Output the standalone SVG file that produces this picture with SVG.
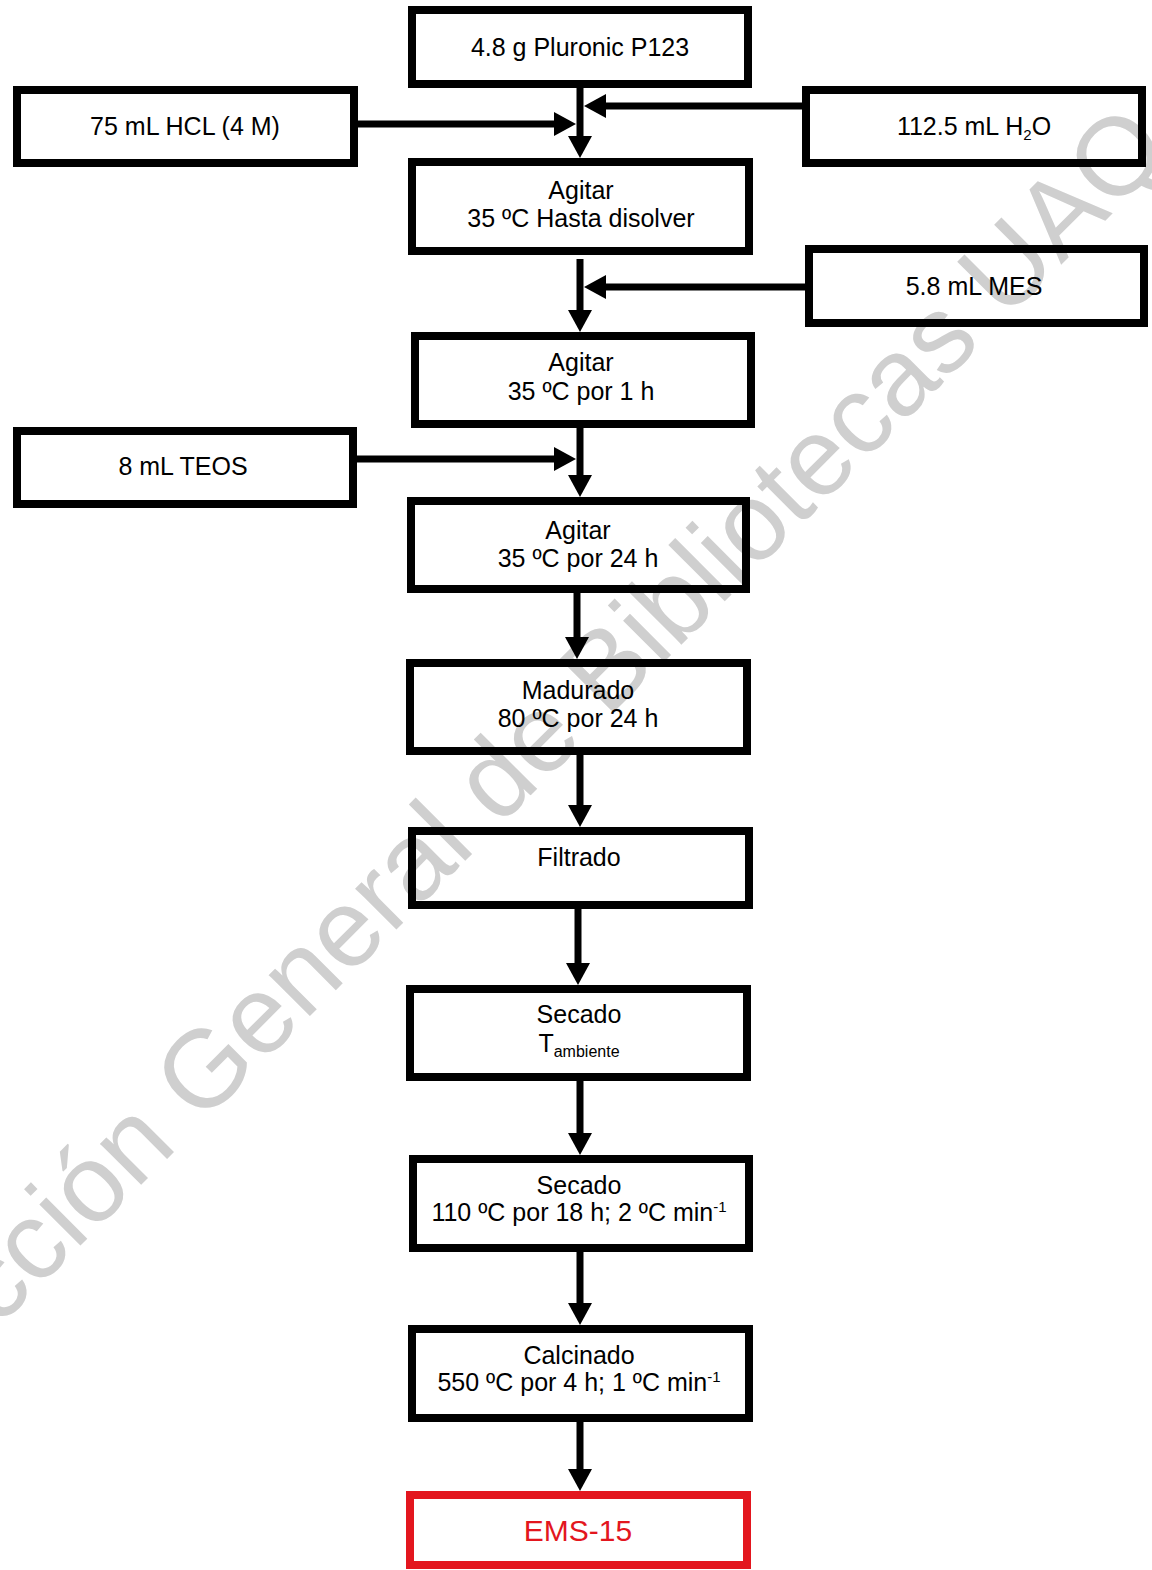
<svg xmlns="http://www.w3.org/2000/svg" width="1152" height="1570" viewBox="0 0 1152 1570">
<defs>
<style>
.box{fill:none;stroke:#000;stroke-width:8}
.red{fill:none;stroke:#e3161e;stroke-width:8}
.t{font-family:"Liberation Sans",Arial,sans-serif;font-size:25px;fill:#000;text-anchor:middle}
.tr{font-family:"Liberation Sans",Arial,sans-serif;font-size:30px;fill:#e3161e;text-anchor:middle}
.wm{font-family:"Liberation Sans",Arial,sans-serif;font-size:110px;fill:#cfcfcf}
.c{fill:none;stroke:#000;stroke-width:7;marker-end:url(#ah)}
</style>
<marker id="ah" markerUnits="userSpaceOnUse" viewBox="0 0 22 24" markerWidth="22" markerHeight="24" refX="4" refY="12" orient="auto">
<path d="M0,0 L22,12 L0,24 Z" fill="#000"/>
</marker>
</defs>
<rect width="1152" height="1570" fill="#fff"/>
<text class="wm" x="-301" y="1095" transform="rotate(-45 231 1095)">Dirección General de Bibliotecas UAQ</text>

<g id="connectors">
<path class="c" d="M580,88 V140"/>
<path class="c" d="M358,124 H558"/>
<path class="c" d="M802,106 H602"/>
<path class="c" d="M580,259 V314"/>
<path class="c" d="M805,287 H602"/>
<path class="c" d="M580,428 V479"/>
<path class="c" d="M357,459 H558"/>
<path class="c" d="M577,593 V641"/>
<path class="c" d="M580,755 V809"/>
<path class="c" d="M578,909 V967"/>
<path class="c" d="M580,1081 V1137"/>
<path class="c" d="M580,1252 V1307"/>
<path class="c" d="M580,1422 V1473"/>
</g>

<g id="n-p123"><rect class="box" x="412" y="10" width="336" height="74"/><text class="t" x="580" y="56">4.8 g Pluronic P123</text></g>
<g id="n-hcl"><rect class="box" x="17" y="90" width="337" height="73"/><text class="t" x="185" y="135">75 mL HCL (4 M)</text></g>
<g id="n-h2o"><rect class="box" x="806" y="90" width="336" height="73"/><text class="t" x="974" y="135">112.5 mL H<tspan font-size="15" dy="5">2</tspan><tspan dy="-5">O</tspan></text></g>
<g id="n-agitar1"><rect class="box" x="412" y="162" width="337" height="89"/><text class="t" x="581" y="199">Agitar</text><text class="t" x="581" y="227">35 ºC Hasta disolver</text></g>
<g id="n-mes"><rect class="box" x="809" y="249" width="335" height="74"/><text class="t" x="974" y="295">5.8 mL MES</text></g>
<g id="n-agitar2"><rect class="box" x="415" y="336" width="336" height="88"/><text class="t" x="581" y="371">Agitar</text><text class="t" x="581" y="400">35 ºC por 1 h</text></g>
<g id="n-teos"><rect class="box" x="17" y="431" width="336" height="73"/><text class="t" x="183" y="475">8 mL TEOS</text></g>
<g id="n-agitar3"><rect class="box" x="411" y="501" width="335" height="88"/><text class="t" x="578" y="539">Agitar</text><text class="t" x="578" y="567">35 ºC por 24 h</text></g>
<g id="n-madurado"><rect class="box" x="410" y="663" width="337" height="88"/><text class="t" x="578" y="699">Madurado</text><text class="t" x="578" y="727">80 ºC por 24 h</text></g>
<g id="n-filtrado"><rect class="box" x="412" y="831" width="337" height="74"/><text class="t" x="579" y="866">Filtrado</text></g>
<g id="n-secado1"><rect class="box" x="410" y="989" width="337" height="88"/><text class="t" x="579" y="1023">Secado</text><text class="t" x="579" y="1052">T<tspan font-size="16" dy="5">ambiente</tspan></text></g>
<g id="n-secado2"><rect class="box" x="413" y="1159" width="336" height="89"/><text class="t" x="579" y="1194">Secado</text><text class="t" x="579" y="1221">110 ºC por 18 h; 2 ºC min<tspan font-size="15" dy="-9">-1</tspan></text></g>
<g id="n-calcinado"><rect class="box" x="412" y="1329" width="337" height="89"/><text class="t" x="579" y="1364">Calcinado</text><text class="t" x="579" y="1391">550 ºC por 4 h; 1 ºC min<tspan font-size="15" dy="-9">-1</tspan></text></g>
<g id="n-ems"><rect class="red" x="410" y="1495" width="337" height="70"/><text class="tr" x="578" y="1541">EMS-15</text></g>
</svg>
